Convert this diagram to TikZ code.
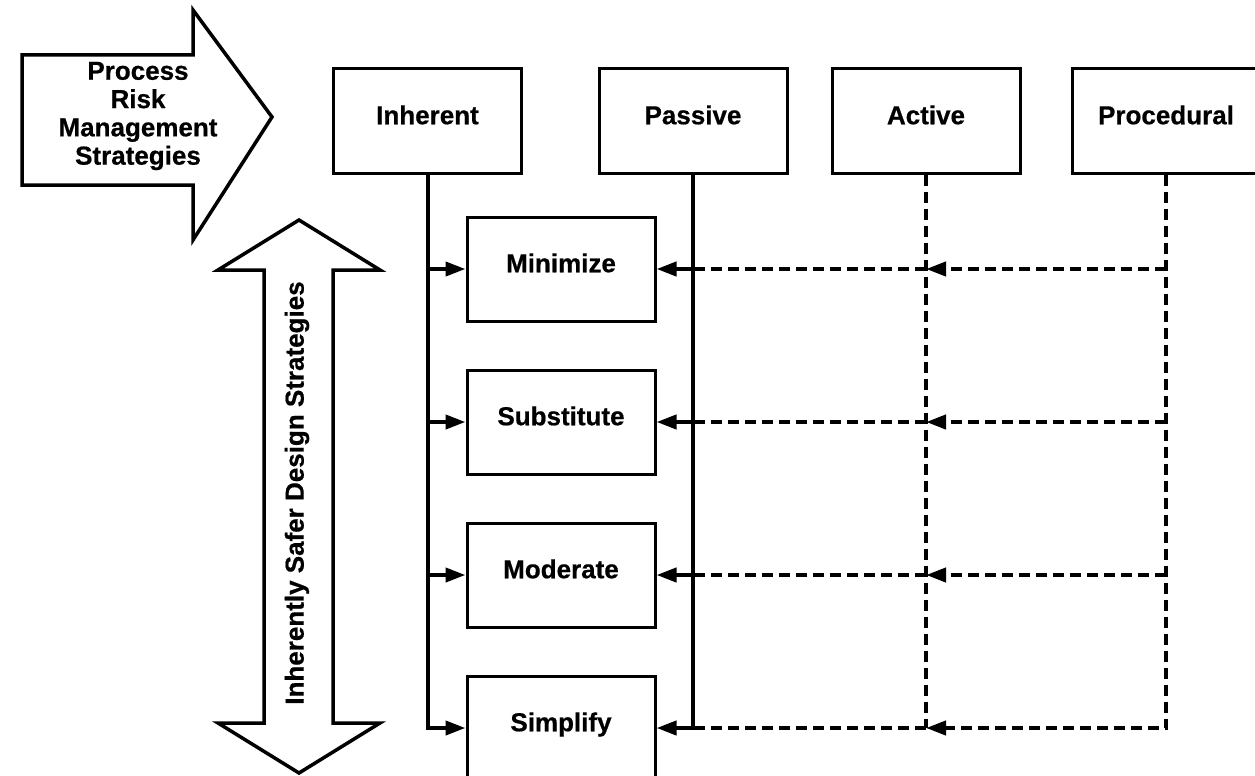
\documentclass[tikz,border=0pt]{standalone}
\usepackage{fontspec}
\setmainfont{Liberation Sans}[BoldFeatures={FakeBold=0.6}]
\usetikzlibrary{arrows.meta}
\begin{document}
\begin{tikzpicture}[x=1pt,y=-1pt,
  lbl/.style={font=\fontsize{26}{28.3}\selectfont\bfseries},
  box/.style={draw, line width=3pt, minimum width=188pt, minimum height=104pt,
    inner sep=0pt, lbl, text height=18.5pt, text depth=12pt},
  wire/.style={line width=4pt},
  dwire/.style={line width=4pt, dash pattern=on 11pt off 6pt},
  tip/.style={-{Triangle[length=20pt,width=14pt]}},
  bigarrow/.style={draw, line width=3.5pt, line join=miter, fill=white}]
\useasboundingbox (0,0) rectangle (1255,776);

% big arrows
\draw[bigarrow] (22,55) -- (193,55) -- (193,10) -- (272,117) -- (193,240)
  -- (193,185) -- (22,185) -- cycle;
\draw[bigarrow] (299,220) -- (380,270) -- (333,270) -- (333,723) -- (380,723)
  -- (299,773) -- (218,723) -- (264,723) -- (264,270) -- (218,270) -- cycle;
\node[lbl, align=center] (prm) at (138,116) {Process\\Risk\\Management\\Strategies};
\node[lbl, rotate=90] (isd) at (297,493) {Inherently Safer Design Strategies};

% top boxes
\node[box] (inh) at (427.5,121) {Inherent};
\node[box] (pas) at (693,121) {Passive};
\node[box] (act) at (926,121) {Active};
\node[box] (pro) at (1166,121) {Procedural};

% strategy boxes
\node[box] (min) at (561,269) {Minimize};
\node[box] (sub) at (561,422) {Substitute};
\node[box] (mod) at (561,575) {Moderate};
\node[box] (sim) at (561,728) {Simplify};

% dashed connectors
\draw[dwire] (act.south) -- (act.south |- sim.east);
\draw[dwire,tip] (pro.south) |- (act.south |- sim.east);
\foreach \b in {min,sub,mod}{
  \draw[dwire,tip] (pro.south |- \b.east) -- (act.south |- \b.east);
}
\foreach \b in {min,sub,mod,sim}{
  \draw[dwire] (act.south |- \b.east) -- (pas.south |- \b.east);
}

% solid connectors
\draw[wire,tip] (inh.south) |- (sim.west);
\draw[wire,tip] (pas.south) |- (sim.east);
\foreach \b in {min,sub,mod}{
  \draw[wire,tip] (inh.south |- \b.west) -- (\b.west);
  \draw[wire,tip] (pas.south |- \b.east) -- (\b.east);
}
\end{tikzpicture}
\end{document}
